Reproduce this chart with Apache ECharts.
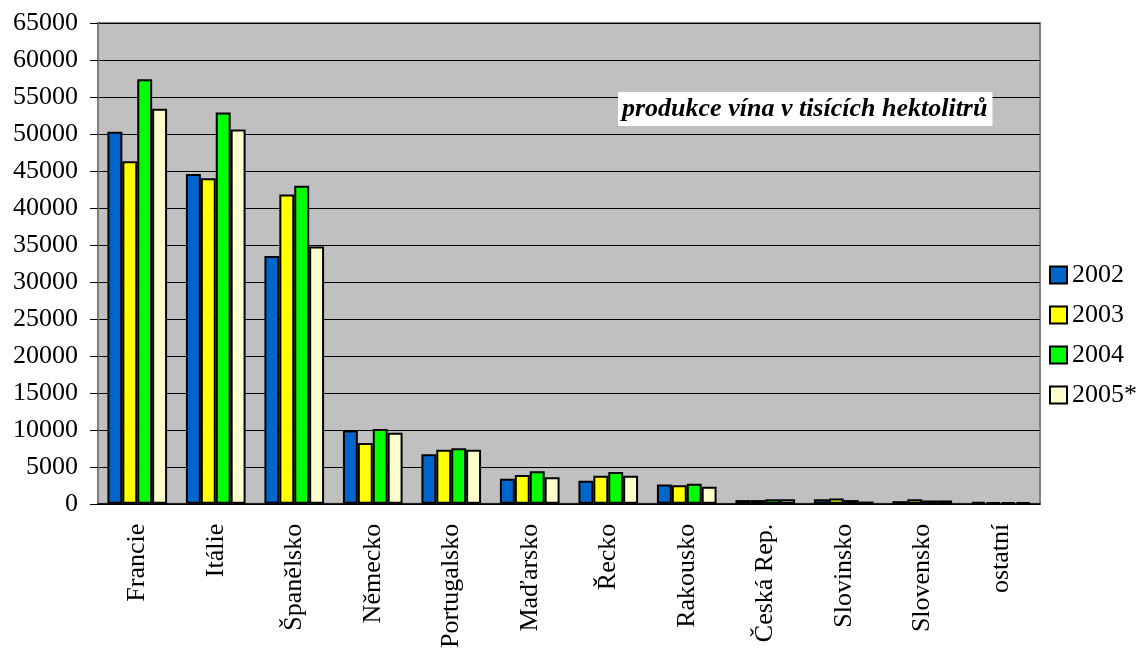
<!DOCTYPE html>
<html>
<head>
<meta charset="utf-8">
<script src="https://cdn.jsdelivr.net/npm/echarts@6/dist/echarts.min.js"></script>
<style>
html,body{margin:0;padding:0;background:#fff;}
#chart{width:1140px;height:651px;}
</style>
</head>
<body>
<div id="chart"></div>
<script>
const categories = ['Francie','Itálie','Španělsko','Německo','Portugalsko','Maďarsko','Řecko','Rakousko','Česká Rep.','Slovinsko','Slovensko','ostatní'];
const seriesNames = ['2002','2003','2004','2005*'];
const v2002 = [50300,44600,33500,9900,6700,3400,3100,2600,500,600,350,250];
const v2003 = [46300,44000,41800,8200,7300,3900,3800,2500,500,700,600,200];
const v2004 = [57400,52900,43000,10100,7500,4400,4300,2700,600,500,450,200];
const v2005 = [53400,50600,34800,9600,7300,3600,3800,2300,600,300,450,200];
const colors = ['#0066CC','#FFFF00','#00FF00','#FFFFCC'];
const titleText = 'produkce vína v tisících hektolitrů';

const FONT = '"Liberation Serif","Times New Roman",serif';
const allValues = [v2002, v2003, v2004, v2005];

const chart = echarts.init(document.getElementById('chart'));
chart.setOption({
  animation: false,
  title: {
    text: titleText,
    left: 618, top: 92,
    backgroundColor: '#ffffff',
    padding: [4, 5, 4, 4],
    textStyle: {fontFamily: FONT, fontSize: 26, fontWeight: 'bold', fontStyle: 'italic', color: '#000'}
  },
  legend: {
    orient: 'vertical',
    left: 1049, top: 262,
    padding: 0,
    itemWidth: 17, itemHeight: 17,
    itemGap: 14,
    icon: 'rect',
    textStyle: {fontFamily: FONT, fontSize: 26, color: '#000'},
    data: seriesNames
  },
  grid: {
    left: 98, right: 100, top: 23, bottom: 145,
    show: true,
    backgroundColor: '#C0C0C0',
    borderColor: '#808080',
    borderWidth: 2
  },
  xAxis: {
    type: 'category',
    data: categories,
    axisLine: {lineStyle: {color: '#000', width: 1.5}},
    axisTick: {length: 8, lineStyle: {color: '#000'}},
    axisLabel: {rotate: 90, margin: 20, interval: 0, fontFamily: FONT, fontSize: 26, color: '#000'}
  },
  yAxis: {
    type: 'value',
    min: 0, max: 65000, interval: 5000,
    axisLine: {show: true, lineStyle: {color: '#808080', width: 2}},
    axisTick: {show: true, length: 8, lineStyle: {color: '#000'}},
    axisLabel: {margin: 20, fontFamily: FONT, fontSize: 26, color: '#000', formatter: v => String(v)},
    splitLine: {lineStyle: {color: '#000', width: 1}}
  },
  series: seriesNames.map((n, i) => ({
    name: n,
    type: 'bar',
    data: allValues[i],
    barGap: '0%',
    barCategoryGap: '24%',
    itemStyle: {color: colors[i], borderColor: '#000', borderWidth: 2}
  }))
});
</script>
</body>
</html>
